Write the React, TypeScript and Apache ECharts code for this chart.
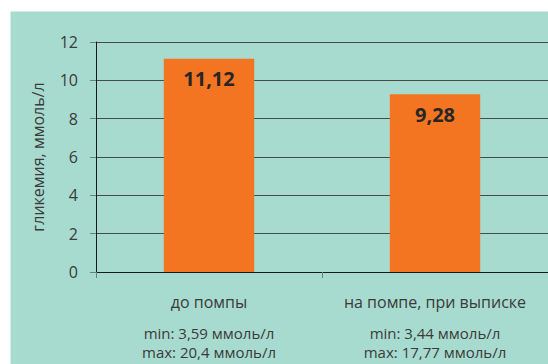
import React, { useEffect, useRef } from "react";
import * as echarts from "echarts";

const categories = ["до помпы", "на помпе, при выписке"];
const meanValues = [11.12, 9.28];
const minValues = [3.59, 3.44];
const maxValues = [20.4, 17.77];
const yTicks = [0, 2, 4, 6, 8, 10, 12];
const unit = "ммоль/л";
const yName = "гликемия, ммоль/л";

const fmt = (v: number) => String(v).replace(".", ",");

export default function App() {
  const ref = useRef<HTMLDivElement>(null);
  useEffect(() => {
    if (!ref.current) return;
    const chart = echarts.init(ref.current, null, { renderer: "svg" });
    const font = "'Open Sans', sans-serif";
    chart.setOption({
      animation: false,
      backgroundColor: "#ffffff",
      graphic: [
        {
          type: "rect",
          z: -10,
          silent: true,
          shape: { x: 10.5, y: 11.5, width: 540, height: 360 },
          style: { fill: "#a8dbcf" },
        },
      ],
      grid: { left: 96, right: -4, top: 42, bottom: 92, containLabel: false },
      xAxis: {
        type: "category",
        data: categories,
        axisLine: { lineStyle: { color: "#1a1a1a", width: 1 } },
        axisTick: { show: true, length: 6, lineStyle: { color: "#6f7f7b" } },
        axisLabel: {
          interval: 0,
          margin: 11,
          fontFamily: font,
          color: "#3a3a3a",
          formatter: (value: string, index: number) =>
            `{a|${value}}\n{b|min: ${fmt(minValues[index])} ${unit}}\n{c|max: ${fmt(
              maxValues[index]
            )} ${unit}}`,
          rich: {
            a: { fontSize: 16, lineHeight: 38, fontFamily: font, color: "#3a3a3a", verticalAlign: "middle" },
            b: { fontSize: 15, lineHeight: 23, fontFamily: font, color: "#3a3a3a", verticalAlign: "middle" },
            c: { fontSize: 15, lineHeight: 16, fontFamily: font, color: "#3a3a3a", verticalAlign: "middle" },
          },
        },
      },
      yAxis: {
        type: "value",
        min: yTicks[0],
        max: yTicks[yTicks.length - 1],
        interval: yTicks[1] - yTicks[0],
        name: yName,
        nameLocation: "middle",
        nameGap: 50,
        nameRotate: 90,
        nameTextStyle: {
          fontFamily: font,
          fontSize: 16,
          color: "#3a3a3a",
        },
        axisLine: { show: true, lineStyle: { color: "#1a1a1a", width: 1 } },
        axisTick: { show: true, length: 6, lineStyle: { color: "#6f7f7b" } },
        axisLabel: { margin: 18, fontFamily: font, fontSize: 16, color: "#3a3a3a" },
        splitLine: { show: true, lineStyle: { color: "#4a4a4a", width: 1 } },
      },
      series: [
        {
          type: "bar",
          data: meanValues,
          barWidth: "40%",
          itemStyle: { color: "#f47521" },
          label: {
            show: true,
            position: "insideTop",
            distance: 10,
            formatter: (p: any) => fmt(p.value),
            fontFamily: font,
            fontSize: 20,
            fontWeight: "bold",
            color: "#262626",
          },
        },
      ],
    });
    return () => chart.dispose();
  }, []);
  return (
    <div
      ref={ref}
      style={{ position: "absolute", left: 0, top: 0, width: 548, height: 364 }}
    />
  );
}
